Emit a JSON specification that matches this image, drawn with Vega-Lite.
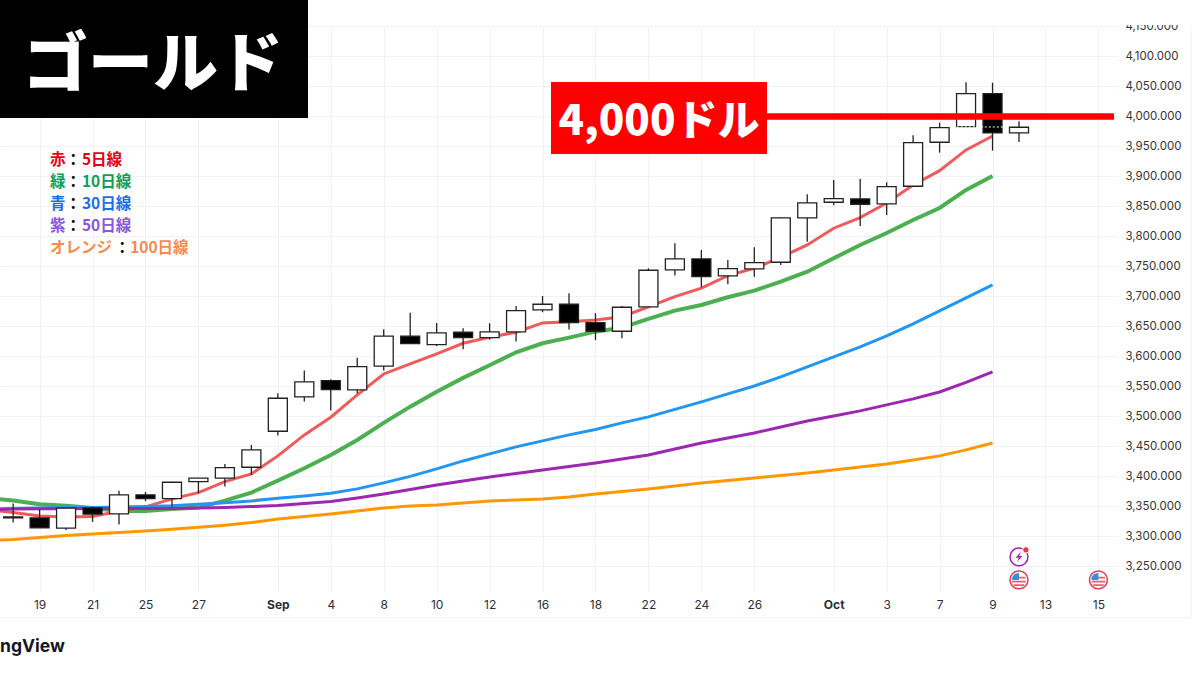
{
  "$schema": "https://vega.github.io/schema/vega-lite/v6.json",
  "width": 1118,
  "height": 565,
  "autosize": {"type": "none"},
  "padding": {"left": 0, "top": 26, "right": 82, "bottom": 84},
  "background": "white",
  "config": {"view": {"stroke": null}},
  "datasets": {
    "prices": [
      {"bar": -1.5, "ma5": 3342.5, "ma10": 3362, "ma30": 3346.3, "ma50": 3345, "ma100": 3294.2},
      {"bar": -1, "open": 3332.5, "close": 3331, "high": 3355, "low": 3323, "ma5": 3340, "ma10": 3360, "ma30": 3346.7, "ma50": 3345.8, "ma100": 3295},
      {"bar": 0, "open": 3330.8, "close": 3314.2, "high": 3345.3, "low": 3314.2, "ma5": 3334.2, "ma10": 3353.7, "ma30": 3347.5, "ma50": 3346.3, "ma100": 3298.3},
      {"bar": 1, "open": 3313.7, "close": 3347, "high": 3347, "low": 3310.8, "ma5": 3332.5, "ma10": 3351.3, "ma30": 3348, "ma50": 3346.3, "ma100": 3301.7},
      {"bar": 2, "open": 3347.5, "close": 3337, "high": 3349.7, "low": 3324.2, "ma5": 3333, "ma10": 3347.5, "ma30": 3348.3, "ma50": 3346.7, "ma100": 3304.2},
      {"bar": 3, "open": 3337.5, "close": 3369.2, "high": 3376.3, "low": 3319.7, "ma5": 3342.5, "ma10": 3342.5, "ma30": 3349.2, "ma50": 3346.7, "ma100": 3306.7},
      {"bar": 4, "open": 3369.2, "close": 3363, "high": 3374.2, "low": 3358.7, "ma5": 3349.2, "ma10": 3342.5, "ma30": 3350, "ma50": 3346.7, "ma100": 3309.2},
      {"bar": 5, "open": 3363, "close": 3390.3, "high": 3391.3, "low": 3349.7, "ma5": 3362.5, "ma10": 3345.8, "ma30": 3351.3, "ma50": 3346.7, "ma100": 3312},
      {"bar": 6, "open": 3391.3, "close": 3397, "high": 3397, "low": 3372, "ma5": 3373, "ma10": 3348, "ma30": 3353.7, "ma50": 3347.2, "ma100": 3315.3},
      {"bar": 7, "open": 3397, "close": 3414.7, "high": 3420.8, "low": 3383, "ma5": 3391.3, "ma10": 3359.7, "ma30": 3356.3, "ma50": 3348.3, "ma100": 3318.7},
      {"bar": 8, "open": 3415.3, "close": 3444.2, "high": 3452.5, "low": 3402.5, "ma5": 3404.2, "ma10": 3373, "ma30": 3359.2, "ma50": 3349.7, "ma100": 3323},
      {"bar": 9, "open": 3475.3, "close": 3530.3, "high": 3538.7, "low": 3468, "ma5": 3434.2, "ma10": 3393, "ma30": 3363.7, "ma50": 3351.7, "ma100": 3329.2},
      {"bar": 10, "open": 3532.5, "close": 3557.5, "high": 3576.4, "low": 3524.7, "ma5": 3469.2, "ma10": 3413.7, "ma30": 3367.5, "ma50": 3354.7, "ma100": 3333.3},
      {"bar": 11, "open": 3559.7, "close": 3544.7, "high": 3562, "low": 3509.7, "ma5": 3498.7, "ma10": 3435.8, "ma30": 3372, "ma50": 3358.3, "ma100": 3337.5},
      {"bar": 12, "open": 3544.2, "close": 3583, "high": 3598, "low": 3538.7, "ma5": 3535.8, "ma10": 3460.8, "ma30": 3379.2, "ma50": 3364.2, "ma100": 3342.5},
      {"bar": 13, "open": 3583.7, "close": 3633.7, "high": 3645.3, "low": 3576.4, "ma5": 3570.8, "ma10": 3489.2, "ma30": 3389.2, "ma50": 3370.8, "ma100": 3347.5},
      {"bar": 14, "open": 3633.7, "close": 3621.3, "high": 3673, "low": 3621.3, "ma5": 3587.5, "ma10": 3516.3, "ma30": 3400, "ma50": 3378.3, "ma100": 3350.8},
      {"bar": 15, "open": 3619.7, "close": 3639.2, "high": 3655.8, "low": 3617.5, "ma5": 3604.2, "ma10": 3541.3, "ma30": 3412.5, "ma50": 3385.8, "ma100": 3352.5},
      {"bar": 16, "open": 3640.3, "close": 3631.3, "high": 3647, "low": 3612, "ma5": 3622, "ma10": 3564.2, "ma30": 3425.8, "ma50": 3392.5, "ma100": 3355.8},
      {"bar": 17, "open": 3631.3, "close": 3640.8, "high": 3655.3, "low": 3628, "ma5": 3632, "ma10": 3585.3, "ma30": 3437.5, "ma50": 3399.2, "ma100": 3359.2},
      {"bar": 18, "open": 3640.8, "close": 3676.3, "high": 3684.2, "low": 3624.7, "ma5": 3640.3, "ma10": 3607, "ma30": 3449.2, "ma50": 3405, "ma100": 3360.8},
      {"bar": 19, "open": 3677.5, "close": 3687, "high": 3700.8, "low": 3673.7, "ma5": 3655.8, "ma10": 3622, "ma30": 3459.2, "ma50": 3410.8, "ma100": 3362.5},
      {"bar": 20, "open": 3687, "close": 3656.3, "high": 3705.3, "low": 3644.7, "ma5": 3658, "ma10": 3631.3, "ma30": 3469.2, "ma50": 3416.7, "ma100": 3365.8},
      {"bar": 21, "open": 3656.3, "close": 3642, "high": 3672, "low": 3627, "ma5": 3660.8, "ma10": 3641.3, "ma30": 3478.3, "ma50": 3422.5, "ma100": 3370.8},
      {"bar": 22, "open": 3642, "close": 3682, "high": 3684.2, "low": 3630.3, "ma5": 3666.3, "ma10": 3648, "ma30": 3489.2, "ma50": 3429.2, "ma100": 3375},
      {"bar": 23, "open": 3682.5, "close": 3743.7, "high": 3747, "low": 3682.5, "ma5": 3682.5, "ma10": 3662.5, "ma30": 3499.2, "ma50": 3435.8, "ma100": 3379.2},
      {"bar": 24, "open": 3744.2, "close": 3762.5, "high": 3788.7, "low": 3734.7, "ma5": 3699.7, "ma10": 3676.3, "ma30": 3511.7, "ma50": 3445.8, "ma100": 3384.2},
      {"bar": 25, "open": 3762.5, "close": 3733, "high": 3777.5, "low": 3715.3, "ma5": 3713.7, "ma10": 3685.8, "ma30": 3524.2, "ma50": 3455.8, "ma100": 3389.2},
      {"bar": 26, "open": 3734.2, "close": 3746.3, "high": 3760.8, "low": 3720.3, "ma5": 3734.7, "ma10": 3698.7, "ma30": 3537.5, "ma50": 3464.2, "ma100": 3393.3},
      {"bar": 27, "open": 3745.8, "close": 3756.3, "high": 3782, "low": 3733, "ma5": 3747, "ma10": 3709.7, "ma30": 3550.8, "ma50": 3472.5, "ma100": 3397.5},
      {"bar": 28, "open": 3757, "close": 3830.8, "high": 3832, "low": 3752.5, "ma5": 3765.3, "ma10": 3724.7, "ma30": 3565.8, "ma50": 3482.5, "ma100": 3401.7},
      {"bar": 29, "open": 3830.8, "close": 3855.8, "high": 3870.3, "low": 3791.3, "ma5": 3785.8, "ma10": 3741.3, "ma30": 3582.5, "ma50": 3492.5, "ma100": 3405.8},
      {"bar": 30, "open": 3857, "close": 3863, "high": 3894, "low": 3852, "ma5": 3813.7, "ma10": 3763.7, "ma30": 3599.2, "ma50": 3500.8, "ma100": 3410.8},
      {"bar": 31, "open": 3862.5, "close": 3853.7, "high": 3895.8, "low": 3817.5, "ma5": 3831.3, "ma10": 3785.8, "ma30": 3615.8, "ma50": 3509.2, "ma100": 3415.8},
      {"bar": 32, "open": 3854.2, "close": 3883, "high": 3890.3, "low": 3835.8, "ma5": 3855.8, "ma10": 3805.8, "ma30": 3634.2, "ma50": 3519.2, "ma100": 3420.8},
      {"bar": 33, "open": 3883.7, "close": 3956.3, "high": 3968.7, "low": 3883.7, "ma5": 3885.8, "ma10": 3827.5, "ma30": 3654.2, "ma50": 3529.2, "ma100": 3427.5},
      {"bar": 34, "open": 3957, "close": 3981.3, "high": 3989.7, "low": 3939.7, "ma5": 3909.7, "ma10": 3847.5, "ma30": 3675.8, "ma50": 3540.8, "ma100": 3434.2},
      {"bar": 35, "open": 3983, "close": 4038, "high": 4057, "low": 3983, "ma5": 3944.2, "ma10": 3877.5, "ma30": 3697.5, "ma50": 3556.7, "ma100": 3444.2},
      {"bar": 36, "open": 4038, "close": 3972.5, "high": 4056.3, "low": 3943, "ma5": 3967.5, "ma10": 3900.8, "ma30": 3719.2, "ma50": 3574.2, "ma100": 3455.8},
      {"bar": 37, "open": 3972.5, "close": 3982, "high": 3992, "low": 3957.5}
    ],
    "legend": [
      {"bar": 0.39, "price": 3927.5, "label": "赤", "group": "red"},
      {"bar": 0.98, "price": 3927.5, "label": "：", "group": "sep"},
      {"bar": 1.6, "price": 3927.5, "label": "5日線", "group": "red"},
      {"bar": 0.39, "price": 3890.8, "label": "緑", "group": "green"},
      {"bar": 0.98, "price": 3890.8, "label": "：", "group": "sep"},
      {"bar": 1.6, "price": 3890.8, "label": "10日線", "group": "green"},
      {"bar": 0.39, "price": 3854.2, "label": "青", "group": "blue"},
      {"bar": 0.98, "price": 3854.2, "label": "：", "group": "sep"},
      {"bar": 1.6, "price": 3854.2, "label": "30日線", "group": "blue"},
      {"bar": 0.39, "price": 3817.5, "label": "紫", "group": "purple"},
      {"bar": 0.98, "price": 3817.5, "label": "：", "group": "sep"},
      {"bar": 1.6, "price": 3817.5, "label": "50日線", "group": "purple"},
      {"bar": 0.39, "price": 3780.8, "label": "オレンジ", "group": "orange"},
      {"bar": 2.83, "price": 3780.8, "label": "：", "group": "sep"},
      {"bar": 3.42, "price": 3780.8, "label": "100日線", "group": "orange"}
    ],
    "flags": [
      {"bar": 37, "price": 3227.5},
      {"bar": 40, "price": 3227.5}
    ],
    "bolt": [
      {"bar": 37, "price": 3265.8}
    ]
  },
  "data": {"name": "prices"},
  "layer": [
    {
      "mark": {"type": "line", "stroke": "#4caf50", "strokeWidth": 4},
      "encoding": {
        "x": {
          "field": "bar", "type": "quantitative", "title": null,
          "scale": {"domain": [-1.496, 40.74], "nice": false, "zero": false, "padding": 0},
          "axis": {
            "values": [0, 2, 4, 6, 9, 11, 13, 15, 17, 19, 21, 23, 25, 27, 30, 32, 34, 36, 38, 40],
            "tickCount": 30,
            "labelExpr": "['19','','21','','25','','27','','','Sep','','4','','8','','10','','12','','16','','18','','22','','24','','26','','','Oct','','3','','7','','9','','13','','15'][datum.value]",
            "labelFont": "Inter", "labelFontSize": 12, "labelColor": "#2a2e39",
            "labelFontWeight": {"condition": {"test": "datum.value == 9 || datum.value == 30", "value": "bold"}, "value": "normal"},
            "labelPadding": 8, "labelFlush": false, "labelOverlap": false,
            "ticks": false, "domain": false,
            "grid": true, "gridColor": "#f0f2f7", "gridWidth": 1
          }
        },
        "y": {
          "field": "ma10", "type": "quantitative", "title": null,
          "scale": {"domain": [3209, 4150.8], "nice": false, "zero": false},
          "axis": {
            "values": [3250, 3300, 3350, 3400, 3450, 3500, 3550, 3600, 3650, 3700, 3750, 3800, 3850, 3900, 3950, 4000, 4050, 4100, 4150],
            "tickCount": 30,
            "format": ",.3f",
            "orient": "right",
            "labelFont": "Inter", "labelFontSize": 11.5, "labelColor": "#333333",
            "labelPadding": 7, "labelOverlap": false, "labelFlush": false,
            "ticks": false, "domain": false,
            "grid": true, "gridColor": "#f0f2f7", "gridWidth": 1
          }
        }
      }
    },
    {
      "mark": {"type": "rule", "stroke": "#f0f2f7", "strokeWidth": 1},
      "data": {"values": [{}]},
      "encoding": {
        "x": {"datum": -1.5, "type": "quantitative"},
        "x2": {"datum": 43.5},
        "y": {"datum": 3164.2, "type": "quantitative"}
      }
    },
    {
      "mark": {"type": "rule", "stroke": "#f0f2f7", "strokeWidth": 1},
      "data": {"values": [{}]},
      "encoding": {
        "x": {"datum": 43.5, "type": "quantitative"},
        "y": {"datum": 3164.2, "type": "quantitative"},
        "y2": {"datum": 4152.5}
      }
    },
    {
      "mark": {"type": "line", "stroke": "#f05a5a", "strokeWidth": 3},
      "encoding": {"x": {"field": "bar", "type": "quantitative"}, "y": {"field": "ma5", "type": "quantitative"}}
    },
    {
      "mark": {"type": "line", "stroke": "#2196f3", "strokeWidth": 3},
      "encoding": {"x": {"field": "bar", "type": "quantitative"}, "y": {"field": "ma30", "type": "quantitative"}}
    },
    {
      "mark": {"type": "line", "stroke": "#9c27b0", "strokeWidth": 3},
      "encoding": {"x": {"field": "bar", "type": "quantitative"}, "y": {"field": "ma50", "type": "quantitative"}}
    },
    {
      "mark": {"type": "line", "stroke": "#ff9800", "strokeWidth": 3},
      "encoding": {"x": {"field": "bar", "type": "quantitative"}, "y": {"field": "ma100", "type": "quantitative"}}
    },
    {
      "mark": {"type": "rule", "stroke": "#222222", "strokeWidth": 1.3},
      "encoding": {
        "x": {"field": "bar", "type": "quantitative"},
        "y": {"field": "low", "type": "quantitative"},
        "y2": {"field": "high"}
      }
    },
    {
      "mark": {"type": "bar", "size": 19, "stroke": "#222222", "strokeWidth": 1.3},
      "encoding": {
        "x": {"field": "bar", "type": "quantitative"},
        "y": {"field": "open", "type": "quantitative"},
        "y2": {"field": "close"},
        "fill": {"condition": {"test": "datum.close >= datum.open", "value": "#ffffff"}, "value": "#000000"}
      }
    },
    {
      "mark": {"type": "rule", "stroke": "#ffffff", "strokeWidth": 1, "strokeDash": [2, 2]},
      "data": {"values": [{}]},
      "encoding": {
        "x": {"datum": 34.65, "type": "quantitative"},
        "x2": {"datum": 36.4},
        "y": {"datum": 3982.5, "type": "quantitative"}
      }
    },
    {
      "mark": {"type": "rect", "fill": "#ffffff"},
      "data": {"values": [{}]},
      "encoding": {
        "x": {"datum": 40.8, "type": "quantitative"},
        "x2": {"datum": 43.6},
        "y": {"datum": 4152.5, "type": "quantitative"},
        "y2": {"datum": 4194.2}
      }
    },
    {
      "mark": {"type": "rect", "fill": "#000000"},
      "data": {"values": [{}]},
      "encoding": {
        "x": {"datum": -1.5, "type": "quantitative"},
        "x2": {"datum": 10.14},
        "y": {"datum": 3997.5, "type": "quantitative"},
        "y2": {"datum": 4194.2}
      }
    },
    {
      "mark": {"type": "text", "font": "Noto Sans CJK JP", "fontWeight": 900, "fontSize": 65, "fill": "#ffffff", "align": "center", "baseline": "middle"},
      "data": {"values": [{"label": "ゴールド"}]},
      "encoding": {
        "x": {"datum": 4.28, "type": "quantitative"},
        "y": {"datum": 4084, "type": "quantitative"},
        "text": {"field": "label"}
      }
    },
    {
      "mark": {"type": "rule", "stroke": "#ff0000", "strokeWidth": 6.5},
      "data": {"values": [{}]},
      "encoding": {
        "x": {"datum": 27.4, "type": "quantitative"},
        "x2": {"datum": 40.59},
        "y": {"datum": 4000, "type": "quantitative"}
      }
    },
    {
      "mark": {"type": "rect", "fill": "#ff0000"},
      "data": {"values": [{}]},
      "encoding": {
        "x": {"datum": 19.32, "type": "quantitative"},
        "x2": {"datum": 27.48},
        "y": {"datum": 3937.5, "type": "quantitative"},
        "y2": {"datum": 4057.5}
      }
    },
    {
      "mark": {"type": "text", "font": "Noto Sans CJK JP", "fontWeight": 900, "fontSize": 42, "fill": "#ffffff", "align": "center", "baseline": "middle"},
      "data": {"values": [{"label": "4,000ドル"}]},
      "encoding": {
        "x": {"datum": 23.4, "type": "quantitative"},
        "y": {"datum": 3991, "type": "quantitative"},
        "text": {"field": "label"}
      }
    },
    {
      "mark": {"type": "text", "font": "Noto Sans CJK JP", "fontWeight": "bold", "fontSize": 15.5, "align": "left", "baseline": "middle"},
      "data": {"name": "legend"},
      "encoding": {
        "x": {"field": "bar", "type": "quantitative"},
        "y": {"field": "price", "type": "quantitative"},
        "text": {"field": "label"},
        "color": {
          "field": "group", "type": "nominal", "legend": null,
          "scale": {
            "domain": ["red", "green", "blue", "purple", "orange", "sep"],
            "range": ["#e60012", "#0f9d58", "#1a6fe8", "#8a56e0", "#f58b4c", "#000000"]
          }
        }
      }
    },
    {
      "mark": {"type": "text", "font": "Inter", "fontWeight": "bold", "fontSize": 17.5, "fill": "#131722", "align": "left", "baseline": "middle"},
      "data": {"values": [{"label": "ngView"}]},
      "encoding": {
        "x": {"datum": -1.496, "type": "quantitative"},
        "y": {"datum": 3115.8, "type": "quantitative"},
        "text": {"field": "label"}
      }
    },
    {
      "mark": {"type": "point", "filled": true, "size": 320, "fill": "#ffffff", "stroke": "#e8394a", "strokeWidth": 1.5, "shape": "circle", "opacity": 1},
      "data": {"name": "flags"},
      "encoding": {"x": {"field": "bar", "type": "quantitative"}, "y": {"field": "price", "type": "quantitative"}}
    },
    {
      "mark": {"type": "point", "filled": true, "size": 210, "fill": "#e8616c", "strokeWidth": 0, "opacity": 1, "shape": "M-0.1,-0.42H0.9V-0.18H-0.1Z M-0.95,0.12H0.95V0.36H-0.95Z M-0.72,0.6H0.72V0.84H-0.72Z"},
      "data": {"name": "flags"},
      "encoding": {"x": {"field": "bar", "type": "quantitative"}, "y": {"field": "price", "type": "quantitative"}}
    },
    {
      "mark": {"type": "point", "filled": true, "size": 210, "fill": "#3f8ae0", "strokeWidth": 0, "opacity": 1, "shape": "M-0.95,0V-0.35L-0.6,-0.8L0,-1V0Z"},
      "data": {"name": "flags"},
      "encoding": {"x": {"field": "bar", "type": "quantitative"}, "y": {"field": "price", "type": "quantitative"}}
    },
    {
      "mark": {"type": "point", "filled": false, "size": 320, "stroke": "#9c27b0", "strokeWidth": 1.5, "shape": "circle", "opacity": 1},
      "data": {"name": "bolt"},
      "encoding": {"x": {"field": "bar", "type": "quantitative"}, "y": {"field": "price", "type": "quantitative"}}
    },
    {
      "mark": {"type": "point", "filled": true, "size": 130, "fill": "#9c27b0", "strokeWidth": 0, "opacity": 1, "shape": "M0.35,-0.9L-0.6,0.15H-0.05L-0.35,0.9L0.6,-0.15H0.05Z"},
      "data": {"name": "bolt"},
      "encoding": {"x": {"field": "bar", "type": "quantitative"}, "y": {"field": "price", "type": "quantitative"}}
    },
    {
      "mark": {"type": "point", "filled": true, "size": 42, "fill": "#e8394a", "stroke": "#ffffff", "strokeWidth": 1, "shape": "circle", "opacity": 1},
      "data": {"values": [{"bar": 37.26, "price": 3277.5}]},
      "encoding": {"x": {"field": "bar", "type": "quantitative"}, "y": {"field": "price", "type": "quantitative"}}
    }
  ]
}
